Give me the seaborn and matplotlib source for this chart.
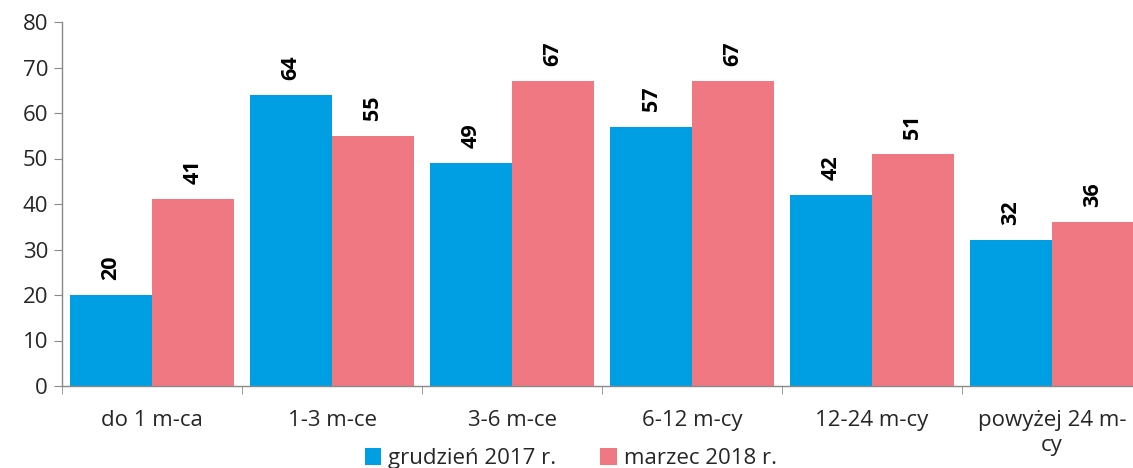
import numpy as np
import pandas as pd
import matplotlib
matplotlib.use("Agg")
import matplotlib.pyplot as plt
import seaborn as sns
from matplotlib.ticker import FixedLocator

# --- Data ---
categories = ["do 1 m-ca", "1-3 m-ce", "3-6 m-ce", "6-12 m-cy", "12-24 m-cy", "powyżej 24 m-\ncy"]
series_names = ["grudzień 2017 r.", "marzec 2018 r."]
dec_2017 = [20, 64, 49, 57, 42, 32]
mar_2018 = [41, 55, 67, 67, 51, 36]
colors = ["#009FE3", "#F07883"]

df = pd.DataFrame({
    "kategoria": categories * 2,
    "okres": [series_names[0]] * len(categories) + [series_names[1]] * len(categories),
    "wartosc": dec_2017 + mar_2018,
})

sns.set_style("white")
plt.rcParams["font.family"] = ["Open Sans", "DejaVu Sans"]

fig = plt.figure(figsize=(11.33, 4.68), dpi=100)
ax = fig.add_axes([62 / 1133, 82 / 468, 1080 / 1133, 364 / 468])

sns.barplot(data=df, x="kategoria", y="wartosc", hue="okres", palette=colors,
            width=0.91, gap=0, saturation=1, linewidth=0, ax=ax, legend=True)

for container in ax.containers:
    ax.bar_label(container, fmt="%d", rotation=90, padding=11,
                 fontsize=15.5, fontweight="bold", color="#000000")

ax.set_ylim(0, 80)
ax.set_xlim(-0.5, len(categories) - 0.5)
ax.set_yticks(range(0, 81, 10))
ax.set_xlabel("")
ax.set_ylabel("")

for s in ["top", "right"]:
    ax.spines[s].set_visible(False)
for s in ["left", "bottom"]:
    ax.spines[s].set_color("#898989")
    ax.spines[s].set_linewidth(1)

ax.tick_params(axis="y", which="major", left=True, length=6, color="#898989",
               labelsize=16, pad=4)
ax.tick_params(axis="x", which="major", bottom=False, labelsize=16, pad=14)
ax.xaxis.set_minor_locator(FixedLocator(np.arange(-0.5, len(categories), 1.0)))
ax.tick_params(axis="x", which="minor", bottom=True, length=6, color="#898989")

handles, labels = ax.get_legend_handles_labels()
ax.legend(handles, labels, loc="center", bbox_to_anchor=(0.471, -0.2),
          ncol=2, frameon=False, fontsize=16, handlelength=0.75, handleheight=0.75,
          handletextpad=0.3, columnspacing=2.0, borderpad=0)

fig.savefig("out.png", dpi=100)
